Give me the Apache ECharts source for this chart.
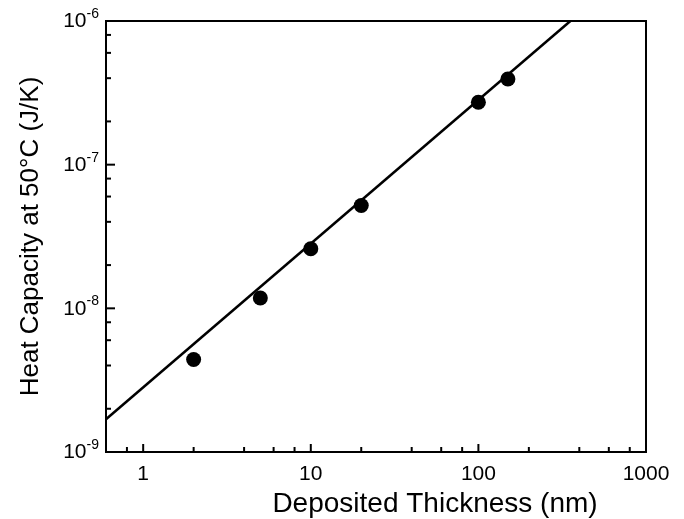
<!DOCTYPE html>
<html>
<head>
<meta charset="utf-8">
<script src="https://cdn.jsdelivr.net/npm/echarts@6/dist/echarts.min.js"></script>
<style>
html,body{margin:0;padding:0;background:#fff;}
#chart{width:684px;height:519px;}
</style>
</head>
<body>
<div id="chart"></div>
<script>
// Data
const thickness = [2, 5, 10, 20, 100, 150];            // nm
const heatCap   = [4.4e-9, 1.18e-8, 2.6e-8, 5.2e-8, 2.72e-7, 3.95e-7]; // J/K
const fitX = [0.6, 354];
const fitY = [1.69e-9, 1.0e-6];

// Axis ranges and tick values
const X_MIN = 0.6, X_MAX = 1000;
const Y_MIN = 1e-9, Y_MAX = 1e-6;
const xMajorTicks = [1, 10, 100];
const xMinorTicks = [0.8, 2, 4, 6, 8, 20, 40, 60, 80, 200, 400, 600, 800];
const yMajorTicks = [1e-8, 1e-7];
const yMinorTicks = [2e-9, 4e-9, 6e-9, 8e-9, 2e-8, 4e-8, 6e-8, 8e-8, 2e-7, 4e-7, 6e-7, 8e-7];

const FONT = '"Liberation Sans", Arial, Helvetica, sans-serif';

function isPow10(v) {
  const e = Math.log10(v);
  return Math.abs(e - Math.round(e)) < 1e-6;
}

function tickSeries(values, axis, len) {
  return {
    type: 'custom',
    silent: true,
    clip: false,
    z: 5,
    data: values.map(v => axis === 'x' ? [v, Y_MIN] : [X_MIN, v]),
    renderItem: function (params, api) {
      const p = api.coord([api.value(0), api.value(1)]);
      const shape = axis === 'x'
        ? { x1: p[0], y1: p[1], x2: p[0], y2: p[1] - len }
        : { x1: p[0], y1: p[1], x2: p[0] + len, y2: p[1] };
      return { type: 'line', shape: shape, style: { stroke: '#000', lineWidth: 2 } };
    }
  };
}

const chart = echarts.init(document.getElementById('chart'), null, { renderer: 'canvas' });
chart.setOption({
  animation: false,
  backgroundColor: '#fff',
  grid: {
    left: 106, right: 38, top: 21, bottom: 67,
    containLabel: false,
    outerBoundsMode: 'none',
    show: true, borderColor: '#000', borderWidth: 2, backgroundColor: 'transparent'
  },
  xAxis: {
    type: 'log',
    logBase: 10,
    min: X_MIN, max: X_MAX,
    name: 'Deposited Thickness (nm)',
    nameLocation: 'middle',
    nameGap: 36,
    nameTextStyle: { fontFamily: FONT, fontSize: 28, color: '#000', padding: [0, 0, 0, 118] },
    axisLine: { show: true, lineStyle: { color: '#000', width: 2 } },
    axisTick: { show: false },
    splitLine: { show: false },
    minorTick: { show: false },
    axisLabel: {
      fontFamily: FONT, fontSize: 21, color: '#000', margin: 12,
      showMinLabel: true, showMaxLabel: true,
      formatter: function (v) { return isPow10(v) ? String(Math.round(v)) : ''; }
    }
  },
  yAxis: {
    type: 'log',
    logBase: 10,
    min: Y_MIN, max: Y_MAX,
    name: 'Heat Capacity at 50\u00B0C (J/K)',
    nameLocation: 'middle',
    nameGap: 62,
    nameTextStyle: { fontFamily: FONT, fontSize: 26, color: '#000' },
    axisLine: { show: true, lineStyle: { color: '#000', width: 2 } },
    axisTick: { show: false },
    splitLine: { show: false },
    minorTick: { show: false },
    axisLabel: {
      margin: 7,
      formatter: function (v) {
        if (!isPow10(v)) return '';
        return '{b|10}{s|' + Math.round(Math.log10(v)) + '}';
      },
      rich: {
        b: { fontFamily: FONT, fontSize: 21, color: '#000', lineHeight: 22, verticalAlign: 'bottom' },
        s: { fontFamily: FONT, fontSize: 14, color: '#000', lineHeight: 14, verticalAlign: 'bottom', padding: [0, 0, 11, 0] }
      }
    }
  },
  series: [
    {
      type: 'line',
      data: fitX.map((x, i) => [x, fitY[i]]),
      symbol: 'none',
      lineStyle: { color: '#000', width: 2.5 },
      silent: true,
      z: 3
    },
    {
      type: 'scatter',
      data: thickness.map((x, i) => [x, heatCap[i]]),
      symbol: 'circle',
      symbolSize: 15,
      itemStyle: { color: '#000', opacity: 1 },
      z: 4
    },
    tickSeries(xMajorTicks, 'x', 8),
    tickSeries(xMinorTicks, 'x', 5),
    tickSeries(yMajorTicks, 'y', 9),
    tickSeries(yMinorTicks, 'y', 5)
  ]
});
</script>
</body>
</html>
